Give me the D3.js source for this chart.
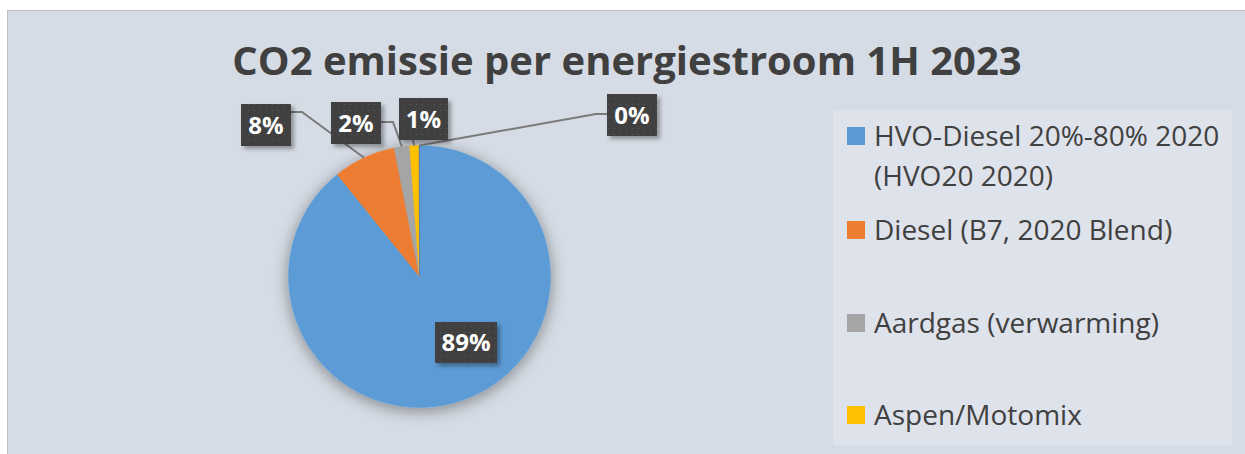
<!DOCTYPE html>
<html>
<head>
<meta charset="utf-8">
<script src="https://cdn.jsdelivr.net/npm/d3@7"></script>
<style>
  body { margin: 0; background: #fff; }
  svg { display: block; font-family: "Open Sans", sans-serif; }
</style>
</head>
<body>
<svg id="chart" width="1245" height="454"></svg>
<script>
// data
var categories = ["HVO-Diesel 20%-80% 2020 (HVO20 2020)", "Diesel (B7, 2020 Blend)", "Aardgas (verwarming)", "Aspen/Motomix", "Overig"];
var values = [89.2, 7.7, 1.9, 1.15, 0.05];
var colors = ["#5b9bd5", "#ed7d31", "#a5a5a5", "#ffc000", "#4472c4"];
var legendLines = [["HVO-Diesel 20%-80% 2020", "(HVO20 2020)"], ["Diesel (B7, 2020 Blend)"], ["Aardgas (verwarming)"], ["Aspen/Motomix"]];

// label layout (box + leader elbow)
var labelBoxes = [
  { x: 435, y: 322, w: 62, h: 41, leader: null },
  { x: 241, y: 104, w: 50, h: 42, leader: [[291, 112], [302, 112]] },
  { x: 331, y: 102, w: 50, h: 42, leader: [[381, 122], [393, 122]] },
  { x: 399, y: 98, w: 49, h: 42, leader: [[413, 140], [413, 140]] },
  { x: 607, y: 94, w: 50, h: 42, leader: [[607, 114], [596, 114]] }
];

var svg = d3.select("#chart");
var defs = svg.append("defs");

var pat = defs.append("pattern").attr("id", "dots")
  .attr("width", 6).attr("height", 6).attr("patternUnits", "userSpaceOnUse");
pat.append("rect").attr("width", 6).attr("height", 6).attr("fill", "#404040");
pat.append("rect").attr("x", 2).attr("y", 2).attr("width", 1).attr("height", 1).attr("fill", "#5a5a5a");

var sh = defs.append("filter").attr("id", "pieShadow")
  .attr("x", "-20%").attr("y", "-20%").attr("width", "140%").attr("height", "140%");
sh.append("feDropShadow").attr("dx", 0).attr("dy", 3).attr("stdDeviation", 8)
  .attr("flood-color", "#000").attr("flood-opacity", 0.4);

var bsh = defs.append("filter").attr("id", "boxShadow")
  .attr("x", "-20%").attr("y", "-20%").attr("width", "150%").attr("height", "150%");
bsh.append("feDropShadow").attr("dx", 3).attr("dy", 3).attr("stdDeviation", 2)
  .attr("flood-color", "#000").attr("flood-opacity", 0.35);

// chart area
svg.append("rect").attr("x", 7.5).attr("y", 10.5).attr("width", 1245).attr("height", 450)
  .attr("fill", "#d6dce5").attr("stroke", "#bfbfbf");

svg.append("text")
  .attr("x", 627).attr("y", 75)
  .attr("text-anchor", "middle")
  .attr("font-size", 40).attr("font-weight", "bold")
  .attr("fill", "#404040")
  .text("CO2 emissie per energiestroom 1H 2023");

// pie
var cx = 419.5, cy = 276.5, radius = 131;
var total = d3.sum(values);
var fmt = d3.format(".0%");

var pie = d3.pie().sort(null).value(function(d) { return d; });
var arcs = pie(values);
var path = d3.arc().innerRadius(0).outerRadius(radius);
var edge = d3.arc().innerRadius(radius).outerRadius(radius);

var g = svg.append("g").attr("transform", "translate(" + cx + "," + cy + ")");

g.append("g").attr("filter", "url(#pieShadow)")
  .selectAll("path")
  .data(arcs)
  .enter()
  .append("path")
  .attr("d", path)
  .attr("fill", function(d, i) { return colors[i]; })
  .attr("stroke", function(d, i) { return colors[i]; })
  .attr("stroke-width", 0.5);

// leader lines
arcs.forEach(function(d, i) {
  var lb = labelBoxes[i];
  if (!lb.leader) return;
  var p = edge.centroid(d);
  var pts = [lb.leader[0], lb.leader[1], [cx + p[0], cy + p[1]]];
  svg.append("path")
    .attr("d", d3.line()(pts))
    .attr("fill", "none")
    .attr("stroke", "#7a7a7a")
    .attr("stroke-width", 2);
});

// labels
var lab = svg.selectAll(".lbl").data(arcs).enter().append("g").attr("class", "lbl");
lab.append("rect")
  .attr("x", function(d, i) { return labelBoxes[i].x; })
  .attr("y", function(d, i) { return labelBoxes[i].y; })
  .attr("width", function(d, i) { return labelBoxes[i].w; })
  .attr("height", function(d, i) { return labelBoxes[i].h; })
  .attr("fill", "url(#dots)")
  .attr("filter", "url(#boxShadow)");
lab.append("text")
  .attr("x", function(d, i) { return labelBoxes[i].x + labelBoxes[i].w / 2; })
  .attr("y", function(d, i) { return labelBoxes[i].y + labelBoxes[i].h / 2 + 8.5; })
  .attr("text-anchor", "middle")
  .attr("font-size", 24).attr("font-weight", "bold")
  .attr("fill", "#fff")
  .text(function(d) { return fmt(d.value / total); });

// legend
var lg = svg.append("g");
lg.append("rect").attr("x", 833).attr("y", 110).attr("width", 399).attr("height", 335)
  .attr("fill", "#dee2ea");

var legendY = [146, 240, 333, 425];
var item = lg.selectAll(".item").data(legendLines).enter().append("g").attr("class", "item");
item.append("rect")
  .attr("x", 847)
  .attr("y", function(d, i) { return legendY[i] - 19; })
  .attr("width", 18).attr("height", 18)
  .attr("fill", function(d, i) { return colors[i]; });
item.append("text")
  .attr("x", 874)
  .attr("y", function(d, i) { return legendY[i]; })
  .attr("font-size", 28)
  .attr("fill", "#404040")
  .selectAll("tspan")
  .data(function(d) { return d; })
  .enter()
  .append("tspan")
  .attr("x", 874)
  .attr("dy", function(d, j) { return j ? 40 : 0; })
  .text(function(d) { return d; });
</script>
</body>
</html>
